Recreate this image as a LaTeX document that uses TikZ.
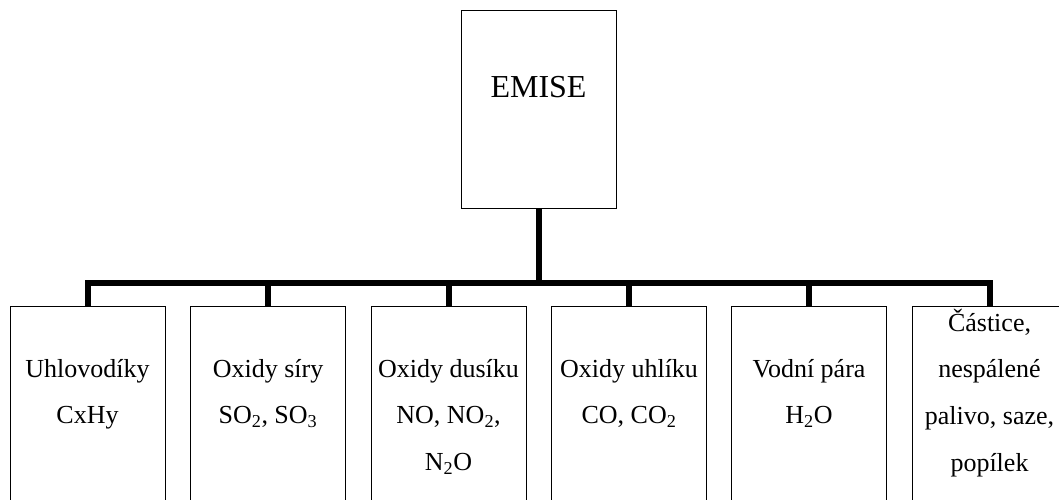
\documentclass[tikz,border=0pt]{standalone}
\usepackage{fontspec}
\setmainfont{Liberation Serif}
\tikzset{
  box/.style={draw, line width=1pt, minimum width=155pt, inner sep=0pt, anchor=north},
  conn/.style={line width=6pt},
  txt/.style={anchor=base, inner sep=0pt, font=\fontsize{26}{46.7}\selectfont}
}
\newcommand{\lines}[1]{\begin{tabular}[t]{@{}c@{}}#1\end{tabular}}
\begin{document}
\begin{tikzpicture}[x=1pt,y=-1pt]
            \useasboundingbox (0,0) rectangle (1059,499);
            \clip (0,0) rectangle (1059,499);

            \node[box, minimum height=198pt] (emise) at (538.5,10) {}; % top box
            \node[anchor=base, font=\fontsize{32}{38}\selectfont] (emisetxt) at (538.5,97.7) {EMISE};

            \node[box, minimum height=220pt] (b1) at (87.5,306) {};
            \node[box, minimum height=220pt] (b2) at (268,306) {};
            \node[box, minimum height=220pt] (b3) at (448.5,306) {};
            \node[box, minimum height=220pt] (b4) at (629,306) {};
            \node[box, minimum height=220pt] (b5) at (809,306) {};
            \node[box, minimum height=220pt] (b6) at (989.5,306) {};

            \node[txt] (t1) at (87.5,377) {\lines{Uhlovodíky\\CxHy}};
            \node[txt] (t2) at (268,377) {\lines{Oxidy síry\\SO\textsubscript{2}, SO\textsubscript{3}}};
            \node[txt] (t3) at (448.5,377) {\lines{Oxidy dusíku\\NO, NO\textsubscript{2},\\N\textsubscript{2}O}};
            \node[txt] (t4) at (629,377) {\lines{Oxidy uhlíku\\CO, CO\textsubscript{2}}};
            \node[txt] (t5) at (809,377) {\lines{Vodní pára\\H\textsubscript{2}O}};
            \node[txt] (t6) at (989.5,331) {\lines{Částice,\\nespálené\\palivo, saze,\\popílek}};

            \coordinate (bus) at (0,283);

            \draw[conn] (emise.south)
            -- (emise.south |- bus); % trunk

            \draw[conn] (b1.north)
            -- (b1.north |- bus)
            -- (b6.north |- bus)
            -- (b6.north); % bus

            \foreach \i in {2,...,5}
            \draw[conn] (b\i.north) -- (b\i.north |- bus); % branches
        \end{tikzpicture}
\end{document}
